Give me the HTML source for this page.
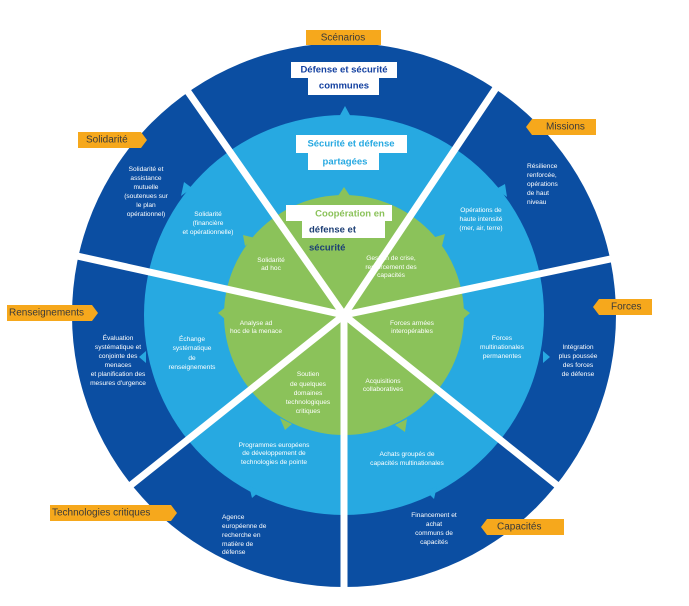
<!DOCTYPE html>
<html><head><meta charset="utf-8"><style>
html,body{margin:0;padding:0;background:#fff;width:689px;height:606px;overflow:hidden}
svg text{font-family:"Liberation Sans",sans-serif}
.w{fill:#fff;font-size:6.6px;text-anchor:middle;dominant-baseline:middle}
.t{fill:#3a3a3a;font-size:10px;dominant-baseline:middle}
</style></head><body>
<svg width="689" height="606" viewBox="0 0 689 606" xmlns="http://www.w3.org/2000/svg">
<circle cx="344" cy="315" r="272" fill="#0b4ea2"/>
<g fill="#27a9e1">
<circle cx="344" cy="315" r="200"/>
<polygon points="339,117 351,117 345,106"/>
<polygon points="181,196 192,188 184,182"/>
<polygon points="496,189 507,197 505,184"/>
<polygon points="146,351 146,363 139,357"/>
<polygon points="543,351 543,363 550,357"/>
<polygon points="249,486 260,491 252,498"/>
<polygon points="426,491 437,486 434,499"/>
</g>
<g fill="#8bc25a">
<circle cx="344" cy="315" r="120"/>
<polygon points="338,196 350,196 344,187"/>
<polygon points="245,246 255,238 243,235"/>
<polygon points="432,238 442,246 445,234"/>
<polygon points="226,307 226,320 218,313"/>
<polygon points="462,307 462,320 470,313"/>
<polygon points="280,418 292,424 285,430"/>
<polygon points="395,425 407,419 405,432"/>
</g>
<g stroke="#fff" stroke-width="7" stroke-linecap="butt">
<line x1="344" y1="315" x2="184" y2="86"/>
<line x1="344" y1="315" x2="500" y2="82"/>
<line x1="344" y1="315" x2="620" y2="257"/>
<line x1="344" y1="315" x2="563" y2="490"/>
<line x1="344" y1="315" x2="344" y2="592"/>
<line x1="344" y1="315" x2="126" y2="489"/>
<line x1="344" y1="315" x2="68" y2="254"/>
</g>
<!-- tabs -->
<g fill="#f6a81c">
<rect x="306" y="30" width="75" height="15"/>
<polygon points="78,132 141,132 147,140 141,148 78,148"/>
<polygon points="532,119 596,119 596,135 532,135 526,127"/>
<polygon points="599,299 652,299 652,315 599,315 593,307"/>
<polygon points="7,305 92,305 98,313 92,321 7,321"/>
<polygon points="50,505 171,505 177,513 171,521 50,521"/>
<polygon points="487,519 564,519 564,535 487,535 481,527"/>
</g>
<text class="t" x="343" y="38" text-anchor="middle">Scénarios</text>
<text class="t" x="86" y="140">Solidarité</text>
<text class="t" x="546" y="127">Missions</text>
<text class="t" x="611" y="307">Forces</text>
<text class="t" x="9" y="313">Renseignements</text>
<text class="t" x="52" y="513">Technologies critiques</text>
<text class="t" x="497" y="527">Capacités</text>
<!-- title boxes -->
<g fill="#fff">
<rect x="291" y="62" width="106" height="16"/>
<rect x="308" y="77" width="71" height="18"/>
<rect x="296" y="135" width="111" height="18"/>
<rect x="308" y="153" width="71" height="17"/>
<rect x="286" y="205" width="106" height="16"/>
<rect x="302" y="221" width="83" height="17"/>
</g>
<g font-weight="bold" font-size="9.5px" text-anchor="middle" style="dominant-baseline:middle">
<text x="344" y="70" fill="#1340a0">Défense et sécurité</text>
<text x="344" y="86" fill="#1340a0">communes</text>
<text x="351" y="144" fill="#27a9e1">Sécurité et défense</text>
<text x="345" y="162" fill="#27a9e1">partagées</text>
<text x="350" y="214" fill="#8bc25a">Coopération en</text>
<text x="309" y="230" fill="#1d3f75" text-anchor="start">défense et</text>
<text x="309" y="248" fill="#1d3f75" text-anchor="start">sécurité</text>
</g>
<!-- outer ring text -->
<text class="w"><tspan x="146" y="169">Solidarité et</tspan><tspan x="146" y="178">assistance</tspan><tspan x="146" y="187">mutuelle</tspan><tspan x="146" y="196">(soutenues sur</tspan><tspan x="146" y="205">le plan</tspan><tspan x="146" y="214">opérationnel)</tspan></text>
<text class="w" text-anchor="start" style="text-anchor:start"><tspan x="527" y="166">Résilience</tspan><tspan x="527" y="175">renforcée,</tspan><tspan x="527" y="184">opérations</tspan><tspan x="527" y="193">de haut</tspan><tspan x="527" y="202">niveau</tspan></text>
<text class="w"><tspan x="118" y="338">Évaluation</tspan><tspan x="118" y="347">systématique et</tspan><tspan x="118" y="356">conjointe des</tspan><tspan x="118" y="365">menaces</tspan><tspan x="118" y="374">et planification des</tspan><tspan x="118" y="383">mesures d'urgence</tspan></text>
<text class="w"><tspan x="578" y="347">Intégration</tspan><tspan x="578" y="356">plus poussée</tspan><tspan x="578" y="365">des forces</tspan><tspan x="578" y="374">de défense</tspan></text>
<text class="w" style="text-anchor:start"><tspan x="222" y="517">Agence</tspan><tspan x="222" y="526">européenne de</tspan><tspan x="222" y="535">recherche en</tspan><tspan x="222" y="544">matière de</tspan><tspan x="222" y="552">défense</tspan></text>
<text class="w"><tspan x="434" y="515">Financement et</tspan><tspan x="434" y="524">achat</tspan><tspan x="434" y="533">communs de</tspan><tspan x="434" y="542">capacités</tspan></text>
<!-- middle ring text -->
<text class="w"><tspan x="208" y="214">Solidarité</tspan><tspan x="208" y="223">(financière</tspan><tspan x="208" y="232">et opérationnelle)</tspan></text>
<text class="w"><tspan x="481" y="210">Opérations de</tspan><tspan x="481" y="219">haute intensité</tspan><tspan x="481" y="228">(mer, air, terre)</tspan></text>
<text class="w"><tspan x="192" y="339">Échange</tspan><tspan x="192" y="348">systématique</tspan><tspan x="192" y="358">de</tspan><tspan x="192" y="367">renseignements</tspan></text>
<text class="w"><tspan x="502" y="338">Forces</tspan><tspan x="502" y="347">multinationales</tspan><tspan x="502" y="356">permanentes</tspan></text>
<text class="w"><tspan x="274" y="445">Programmes européens</tspan><tspan x="274" y="453">de développement de</tspan><tspan x="274" y="462">technologies de pointe</tspan></text>
<text class="w"><tspan x="407" y="454">Achats groupés de</tspan><tspan x="407" y="463">capacités multinationales</tspan></text>
<!-- green text -->
<text class="w"><tspan x="271" y="260">Solidarité</tspan><tspan x="271" y="268">ad hoc</tspan></text>
<text class="w"><tspan x="391" y="258">Gestion de crise,</tspan><tspan x="391" y="267">renforcement des</tspan><tspan x="391" y="275">capacités</tspan></text>
<text class="w"><tspan x="256" y="323">Analyse ad</tspan><tspan x="256" y="331">hoc de la menace</tspan></text>
<text class="w"><tspan x="412" y="323">Forces armées</tspan><tspan x="412" y="331">interopérables</tspan></text>
<text class="w"><tspan x="308" y="374">Soutien</tspan><tspan x="308" y="384">de quelques</tspan><tspan x="308" y="393">domaines</tspan><tspan x="308" y="402">technologiques</tspan><tspan x="308" y="411">critiques</tspan></text>
<text class="w"><tspan x="383" y="381">Acquisitions</tspan><tspan x="383" y="389">collaboratives</tspan></text>
</svg>
</body></html>
